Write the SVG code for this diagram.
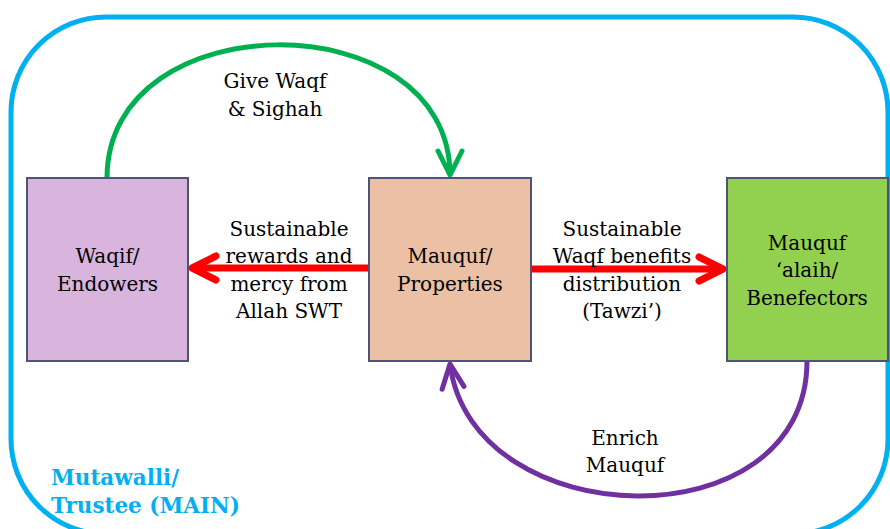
<svg xmlns="http://www.w3.org/2000/svg" width="890" height="529" viewBox="0 0 890 529">
<style>
.t{font-family:"DejaVu Serif","Liberation Serif",serif;font-size:20px;fill:#000;text-anchor:middle}
.box{stroke:#505378;stroke-width:2}
.main{font-family:"DejaVu Serif","Liberation Serif",serif;font-size:21.5px;font-weight:bold;fill:#00B0F0}
</style>
<defs>
<marker id="ar" markerUnits="userSpaceOnUse" orient="auto" refX="0" refY="0" markerWidth="40" markerHeight="40" viewBox="-30 -20 40 40" overflow="visible">
<path d="M-24,-12 L0,0 L-24,12" fill="none" stroke="#FF0000" stroke-width="7" stroke-linecap="round" stroke-linejoin="round"/>
</marker>
<marker id="ag" markerUnits="userSpaceOnUse" orient="auto" refX="0" refY="0" markerWidth="40" markerHeight="40" viewBox="-30 -20 40 40" overflow="visible">
<path d="M-24,-12 L0,0 L-24,12" fill="none" stroke="#00B050" stroke-width="5" stroke-linecap="round" stroke-linejoin="round"/>
</marker>
<marker id="ap" markerUnits="userSpaceOnUse" orient="auto" refX="0" refY="0" markerWidth="40" markerHeight="40" viewBox="-30 -20 40 40" overflow="visible">
<path d="M-24,-11 L0,0 L-24,11" fill="none" stroke="#7030A0" stroke-width="5" stroke-linecap="round" stroke-linejoin="round"/>
</marker>
</defs>
<rect id="frame" x="11" y="17" width="877" height="517" rx="95" ry="95" fill="none" stroke="#00B0F0" stroke-width="5"/>
<g id="connectors">
<path d="M107,178 C107,1 450,1 450,175" fill="none" stroke="#00B050" stroke-width="5" marker-end="url(#ag)"/>
<path d="M807,361 C807,545 472,536 450,364" fill="none" stroke="#7030A0" stroke-width="5" marker-end="url(#ap)"/>
<path d="M369,268 L192,268" fill="none" stroke="#FF0000" stroke-width="7" marker-end="url(#ar)"/>
<path d="M531,269 L723,269" fill="none" stroke="#FF0000" stroke-width="7" marker-end="url(#ar)"/>
</g>
<g id="labels">
<text class="t" x="275" y="88">Give Waqf</text>
<text class="t" x="275" y="116">&amp; Sighah</text>
<text class="t" x="289" y="236">Sustainable</text>
<text class="t" x="289" y="263">rewards and</text>
<text class="t" x="289" y="291">mercy from</text>
<text class="t" x="289" y="318">Allah SWT</text>
<text class="t" x="622" y="236">Sustainable</text>
<text class="t" x="622" y="263">Waqf benefits</text>
<text class="t" x="622" y="291">distribution</text>
<text class="t" x="622" y="318">(Tawzi’)</text>
<text class="t" x="625" y="445">Enrich</text>
<text class="t" x="625" y="472">Mauquf</text>
<text class="main" x="51" y="485">Mutawalli/</text>
<text class="main" x="51" y="513">Trustee (MAIN)</text>
</g>
<g id="waqif">
<rect class="box" x="27" y="178" width="161" height="183" fill="#D9B4DC"/>
<text class="t" x="107.5" y="263">Waqif/</text>
<text class="t" x="107.5" y="291">Endowers</text>
</g>
<g id="mauquf">
<rect class="box" x="369" y="178" width="162" height="183" fill="#EBC0A5"/>
<text class="t" x="450" y="263">Mauquf/</text>
<text class="t" x="450" y="291">Properties</text>
</g>
<g id="mauquf-alaih">
<rect class="box" x="727" y="178" width="161" height="183" fill="#92D050"/>
<text class="t" x="807" y="250">Mauquf</text>
<text class="t" x="807" y="277">‘alaih/</text>
<text class="t" x="807" y="305">Benefectors</text>
</g>
</svg>
